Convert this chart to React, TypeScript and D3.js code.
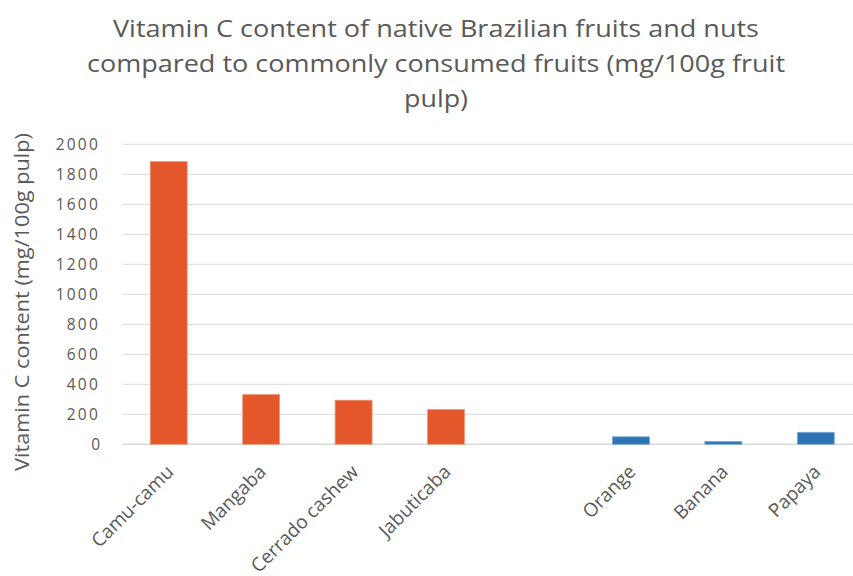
import React from "react";
import * as d3 from "d3";

const categories = ["Camu-camu", "Mangaba", "Cerrado cashew", "Jabuticaba", "", "Orange", "Banana", "Papaya"];
const nativeValues = [1885, 332, 294, 232, null, null, null, null];
const commonValues = [null, null, null, null, null, 50, 19, 80];
const yTicks = [0, 200, 400, 600, 800, 1000, 1200, 1400, 1600, 1800, 2000];
const titleLines = [
  "Vitamin C content of native Brazilian fruits and nuts",
  "compared to commonly consumed fruits (mg/100g fruit",
  "pulp)",
];
const yTitle = "Vitamin C content (mg/100g pulp)";

const W = 853;
const H = 576;
const plotLeft = 122.5;
const plotRight = 862;
const plotTop = 144.3;
const plotBottom = 444.3;
const textColor = "#595959";
const font = "'Open Sans', sans-serif";

export default function App() {
  const x = d3
    .scaleBand<number>()
    .domain(d3.range(categories.length))
    .range([plotLeft, plotRight])
    .paddingInner(0.6)
    .paddingOuter(0.3);
  const y = d3.scaleLinear().domain([0, 2000]).range([plotBottom, plotTop]);

  const titleWidths = [646, 698, 64];
  const titleBaselines = [37, 72, 107];

  return (
    <svg
      width={W}
      height={H}
      style={{ position: "absolute", left: 0, top: 0, background: "#fff" }}
      fontFamily={font}
    >
      <rect x={0} y={0} width={W} height={H} fill="#fff" />
      {titleLines.map((t, i) => (
        <text
          key={i}
          x={436}
          y={titleBaselines[i]}
          textAnchor="middle"
          fontSize={24}
          fill={textColor}
          textLength={titleWidths[i]}
          lengthAdjust="spacingAndGlyphs"
        >
          {t}
        </text>
      ))}
      {yTicks.map((t) => (
        <g key={t}>
          <line
            x1={plotLeft}
            x2={W}
            y1={y(t)}
            y2={y(t)}
            stroke="#D9D9D9"
            strokeWidth={t === 0 ? 1.5 : 1}
          />
          <text
            x={100}
            y={y(t)}
            dy="0.36em"
            textAnchor="end"
            fontSize={15.5}
            letterSpacing={t === 0 ? 0 : 2.2}
            fill={textColor}
          >
            {t}
          </text>
        </g>
      ))}
      <text
        transform={`translate(29,302) rotate(-90)`}
        textAnchor="middle"
        fontSize={19.5}
        fill={textColor}
        textLength={338}
        lengthAdjust="spacingAndGlyphs"
      >
        {yTitle}
      </text>
      {nativeValues.map((v, i) =>
        v == null ? null : (
          <rect
            key={"n" + i}
            x={x(i)!}
            y={y(v)}
            width={x.bandwidth()}
            height={y(0) - y(v)}
            fill="#E4572A"
            stroke="#EE9A7C"
            strokeWidth={0.8}
          />
        )
      )}
      {commonValues.map((v, i) =>
        v == null ? null : (
          <rect
            key={"c" + i}
            x={x(i)!}
            y={y(v)}
            width={x.bandwidth()}
            height={y(0) - y(v)}
            fill="#2E75B6"
            stroke="#7FA9D4"
            strokeWidth={0.8}
          />
        )
      )}
      {categories.map((c, i) =>
        c ? (
          <text
            key={"l" + i}
            transform={`translate(${x(i)! + x.bandwidth() / 2 + 6},473) rotate(-45)`}
            textAnchor="end"
            fontSize={19}
            fill={textColor}
          >
            {c}
          </text>
        ) : null
      )}
    </svg>
  );
}
